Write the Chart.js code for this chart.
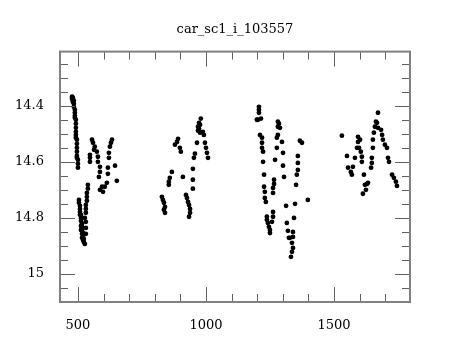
<!DOCTYPE html>
<html>
<head>
<meta charset="utf-8">
<script src="https://cdn.jsdelivr.net/npm/chart.js@4/dist/chart.umd.min.js"></script>
<style>
  html, body { margin: 0; padding: 0; background: #fff; }
  #wrap { width: 460px; height: 340px; }
</style>
</head>
<body>
<div id="wrap"><canvas id="lc"></canvas></div>
<script>
// light curve, one array pair per observing season
var season1Jd = [477,477,480,480,480,484,484,484,488,488,488,488,492,492,492,492,492,492,496,496,496,496,496,496,500,500,500,
  504,504,508,508,508,508,512,512,512,512,512,516,516,516,516,516,520,520,520,523,523,527,
  539,539,535,535,535,531,531,531,527,531,531,531,
  555,559,563,566,574,578,578,586,586,547,547,547,582,594,598,605,613,586,
  633,629,625,621,621,645,617,617,652];
var season1Mag = [14.368,14.375,14.371,14.379,14.386,14.382,14.393,14.404,14.414,14.425,14.436,14.443,14.450,14.464,14.479,14.493,14.504,14.514,14.521,14.536,14.550,14.564,14.579,14.586,14.593,14.607,14.621,
  14.736,14.746,14.757,14.768,14.779,14.789,14.789,14.800,14.811,14.829,14.843,14.821,14.832,14.843,14.857,14.871,14.854,14.864,14.879,14.875,14.886,14.893,
  14.682,14.696,14.711,14.725,14.739,14.754,14.768,14.782,14.800,14.814,14.836,14.857,
  14.521,14.532,14.557,14.546,14.564,14.582,14.600,14.618,14.636,14.575,14.586,14.600,14.654,14.689,14.707,14.689,14.675,14.700,
  14.521,14.532,14.546,14.568,14.586,14.614,14.621,14.643,14.668];

var season2Jd = [980,977,973,969,973,969,977,988,992,996,1000,1004,1008,965,957,953,949,949,949,
  891,887,879,898,902,867,859,855,855,910,
  828,832,836,840,836,840,922,926,930,934,938,938,934];
var season2Mag = [14.446,14.468,14.461,14.475,14.482,14.489,14.496,14.493,14.504,14.532,14.550,14.568,14.586,14.532,14.571,14.586,14.625,14.664,14.696,
  14.518,14.529,14.539,14.550,14.564,14.636,14.657,14.671,14.682,14.654,
  14.725,14.736,14.746,14.761,14.771,14.782,14.718,14.729,14.743,14.754,14.768,14.782,14.796];

var season3Jd = [1207,1207,1207,1199,1215,1203,1211,1219,1219,1219,1223,1223,1227,1227,1230,1230,1234,1238,1238,1242,1246,1250,1250,1258,1262,1262,
  1281,1285,1281,1289,1281,1277,1297,1277,1301,1270,1301,1305,1266,1266,1262,1262,
  1367,1375,1359,1359,1359,1355,1352,1348,1313,1344,1316,1320,1328,1336,1340,1336,1332,1324,1340,1340,1398];
var season3Mag = [14.404,14.414,14.425,14.450,14.446,14.450,14.504,14.514,14.532,14.550,14.564,14.600,14.646,14.689,14.707,14.729,14.743,14.796,14.807,14.818,14.832,14.843,14.854,14.814,14.796,14.779,
  14.457,14.464,14.475,14.479,14.504,14.514,14.529,14.550,14.568,14.593,14.614,14.654,14.664,14.679,14.693,14.711,
  14.525,14.532,14.579,14.604,14.629,14.646,14.682,14.750,14.757,14.800,14.818,14.846,14.871,14.889,14.907,14.921,14.939,14.871,14.850,14.868,14.736];

var season4Jd = [1531,1551,1555,1566,1570,1574,1582,1590,1594,1594,1602,1598,1605,1609,1609,1617,1621,1629,1633,1625,1613,
  1645,1648,1648,1652,1652,1656,1660,1668,1672,1664,1672,1684,1688,1691,1699,1707,1711,1715,1727,1734,1742,1746];
var season4Mag = [14.507,14.579,14.621,14.636,14.646,14.618,14.586,14.550,14.529,14.511,14.521,14.550,14.564,14.582,14.600,14.646,14.682,14.679,14.675,14.700,14.714,
  14.621,14.604,14.586,14.550,14.521,14.496,14.475,14.461,14.425,14.457,14.479,14.486,14.504,14.521,14.539,14.550,14.586,14.600,14.646,14.657,14.671,14.686];

var xLabels = [500, 1000, 1500];
var xMinor = [500, 600, 700, 800, 900, 1000, 1100, 1200, 1300, 1400, 1500, 1600, 1700];
var yLabels = [14.4, 14.6, 14.8, 15];
var yMinor = [14.25, 14.3, 14.35, 14.4, 14.45, 14.5, 14.55, 14.6, 14.65, 14.7, 14.75, 14.8, 14.85, 14.9, 14.95, 15, 15.05];

var serif = 'DejaVu Serif';

function pairs(jd, mag) {
  return jd.map(function(t, i) { return {x: t, y: mag[i]}; });
}

// frame box + inward ticks on all four sides
var frameTicks = {
  id: 'frameTicks',
  afterDatasetsDraw: function(chart) {
    var ctx = chart.ctx, a = chart.chartArea;
    var sx = chart.scales.x, sy = chart.scales.y;
    ctx.save();
    ctx.strokeStyle = '#606060';
    ctx.lineWidth = 1;
    ctx.beginPath();
    xMinor.forEach(function(v) {
      var px = Math.round(sx.getPixelForValue(v)) + 0.5;
      var len = xLabels.indexOf(v) >= 0 ? 15 : 8;
      ctx.moveTo(px, a.bottom); ctx.lineTo(px, a.bottom - len);
      ctx.moveTo(px, a.top); ctx.lineTo(px, a.top + len);
    });
    yMinor.forEach(function(v) {
      var py = Math.round(sy.getPixelForValue(v)) + 0.5;
      var len = yLabels.indexOf(v) >= 0 ? 15 : 8;
      ctx.moveTo(a.left, py); ctx.lineTo(a.left + len, py);
      ctx.moveTo(a.right, py); ctx.lineTo(a.right - len, py);
    });
    ctx.stroke();
    ctx.strokeStyle = '#808080';
    ctx.lineWidth = 2;
    ctx.strokeRect(a.left, a.top, a.right - a.left, a.bottom - a.top);
    ctx.restore();
  }
};

var pointStyle = {
  backgroundColor: '#000',
  borderWidth: 0,
  pointRadius: 2.4,
  pointHoverRadius: 2.4
};

var chart = new Chart(document.getElementById('lc').getContext('2d'), {
  type: 'scatter',
  data: {
    datasets: [
      Object.assign({label: 's1', data: pairs(season1Jd, season1Mag)}, pointStyle),
      Object.assign({label: 's2', data: pairs(season2Jd, season2Mag)}, pointStyle),
      Object.assign({label: 's3', data: pairs(season3Jd, season3Mag)}, pointStyle),
      Object.assign({label: 's4', data: pairs(season4Jd, season4Mag)}, pointStyle)
    ]
  },
  options: {
    responsive: true,
    maintainAspectRatio: false,
    animation: false,
    layout: { padding: { left: 0, right: 50, top: 0, bottom: 0 } },
    plugins: {
      legend: { display: false },
      tooltip: { enabled: false },
      title: {
        display: true,
        fullSize: false,   // centre over the plot box, not the canvas
        text: 'car_sc1_i_103557',
        color: '#000',
        font: { family: serif, size: 13, weight: 'normal' },
        padding: { top: 22, bottom: 14 }
      }
    },
    scales: {
      x: {
        type: 'linear',
        min: 430,
        max: 1797,
        grid: { display: false },
        border: { display: false },
        afterBuildTicks: function(s) { s.ticks = xLabels.map(function(v) { return {value: v}; }); },
        afterFit: function(s) { s.height = 38; },
        ticks: {
          color: '#000', font: { family: serif, size: 13 }, padding: 8, maxRotation: 0,
          callback: function(v) { return String(v); }
        }
      },
      y: {
        type: 'linear',
        reverse: true,
        min: 14.207,
        max: 15.1,
        grid: { display: false },
        border: { display: false },
        afterBuildTicks: function(s) { s.ticks = yLabels.map(function(v) { return {value: v}; }); },
        afterFit: function(s) { s.width = 60; },
        ticks: {
          color: '#000', font: { family: serif, size: 13 }, padding: 8,
          callback: function(v) { return String(v); }
        }
      }
    }
  },
  plugins: [frameTicks]
});
</script>
</body>
</html>
